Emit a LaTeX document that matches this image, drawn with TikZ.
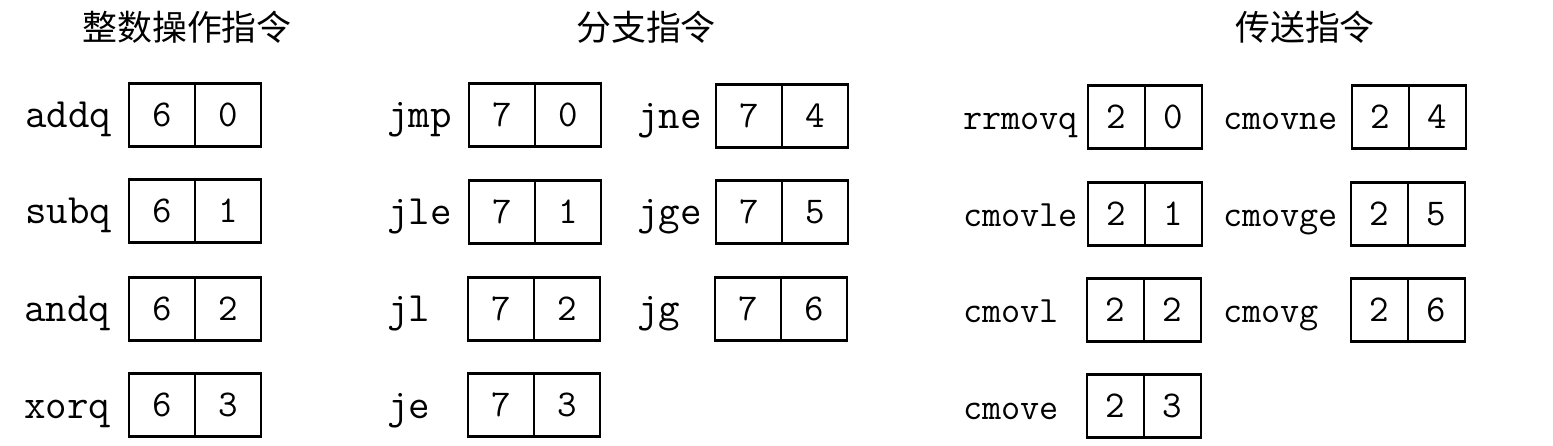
\documentclass[tikz,border=0pt]{standalone}
\usepackage{fontspec}
\newfontfamily\cjk{Noto Sans CJK SC}
\newcommand\opcode[9]{%
  \node[#2] (#1-l) at (#4,#6+13) {#7};
  \node[#3,anchor=west] (#1-a) at (#5,#6) {#8};
  \node[#3,anchor=west] (#1-b) at (#1-a.east) {#9};}
\begin{document}
\begin{tikzpicture}[x=1bp,y=-1bp,
  cell/.style={draw,line width=2.2bp,minimum width=66bp,minimum height=63bp,inner sep=0,outer sep=0,font=\fontsize{38}{38}\selectfont\ttfamily},
  ncell/.style={cell,minimum width=57bp},
  lab/.style={anchor=base west,inner sep=0,font=\fontsize{41.9}{44}\selectfont\ttfamily},
  clab/.style={lab,font=\fontsize{37.3}{40}\selectfont\ttfamily},
  title/.style={inner sep=0,font=\fontsize{35}{40}\selectfont\cjk}]
\useasboundingbox (0,0) rectangle (1553,446);
\fill[white] (0,0) rectangle (1553,446);
\node[title] (t1) at (187,27) {整数操作指令};
\node[title] (t2) at (646,27) {分支指令};
\node[title] (t3) at (1305,27) {传送指令};
% integer ops
\opcode{addq}{lab}{cell}{25}{129}{115}{addq}{6}{0}
\opcode{subq}{lab}{cell}{25}{129}{211}{subq}{6}{1}
\opcode{andq}{lab}{cell}{24}{129}{309}{andq}{6}{2}
\opcode{xorq}{lab}{cell}{24}{129}{405}{xorq}{6}{3}
% branches
\opcode{jmp}{lab}{cell}{387}{469}{115}{jmp}{7}{0}
\opcode{jle}{lab}{cell}{387}{469}{212}{jle}{7}{1}
\opcode{jl}{lab}{cell}{387}{468}{309}{jl}{7}{2}
\opcode{je}{lab}{cell}{387}{468}{405}{je}{7}{3}
\opcode{jne}{lab}{cell}{637}{716}{116}{jne}{7}{4}
\opcode{jge}{lab}{cell}{637}{716}{212}{jge}{7}{5}
\opcode{jg}{lab}{cell}{637}{715}{309}{jg}{7}{6}
% moves
\opcode{rrmovq}{clab}{ncell}{963}{1088}{117}{rrmovq}{2}{0}
\opcode{cmovle}{clab}{ncell}{963}{1088}{214}{cmovle}{2}{1}
\opcode{cmovl}{clab}{ncell}{963}{1087}{310}{cmovl}{2}{2}
\opcode{cmove}{clab}{ncell}{963}{1087}{406}{cmove}{2}{3}
\opcode{cmovne}{clab}{ncell}{1223}{1352}{117}{cmovne}{2}{4}
\opcode{cmovge}{clab}{ncell}{1223}{1351}{214}{cmovge}{2}{5}
\opcode{cmovg}{clab}{ncell}{1223}{1351}{310}{cmovg}{2}{6}
\end{tikzpicture}
\end{document}
